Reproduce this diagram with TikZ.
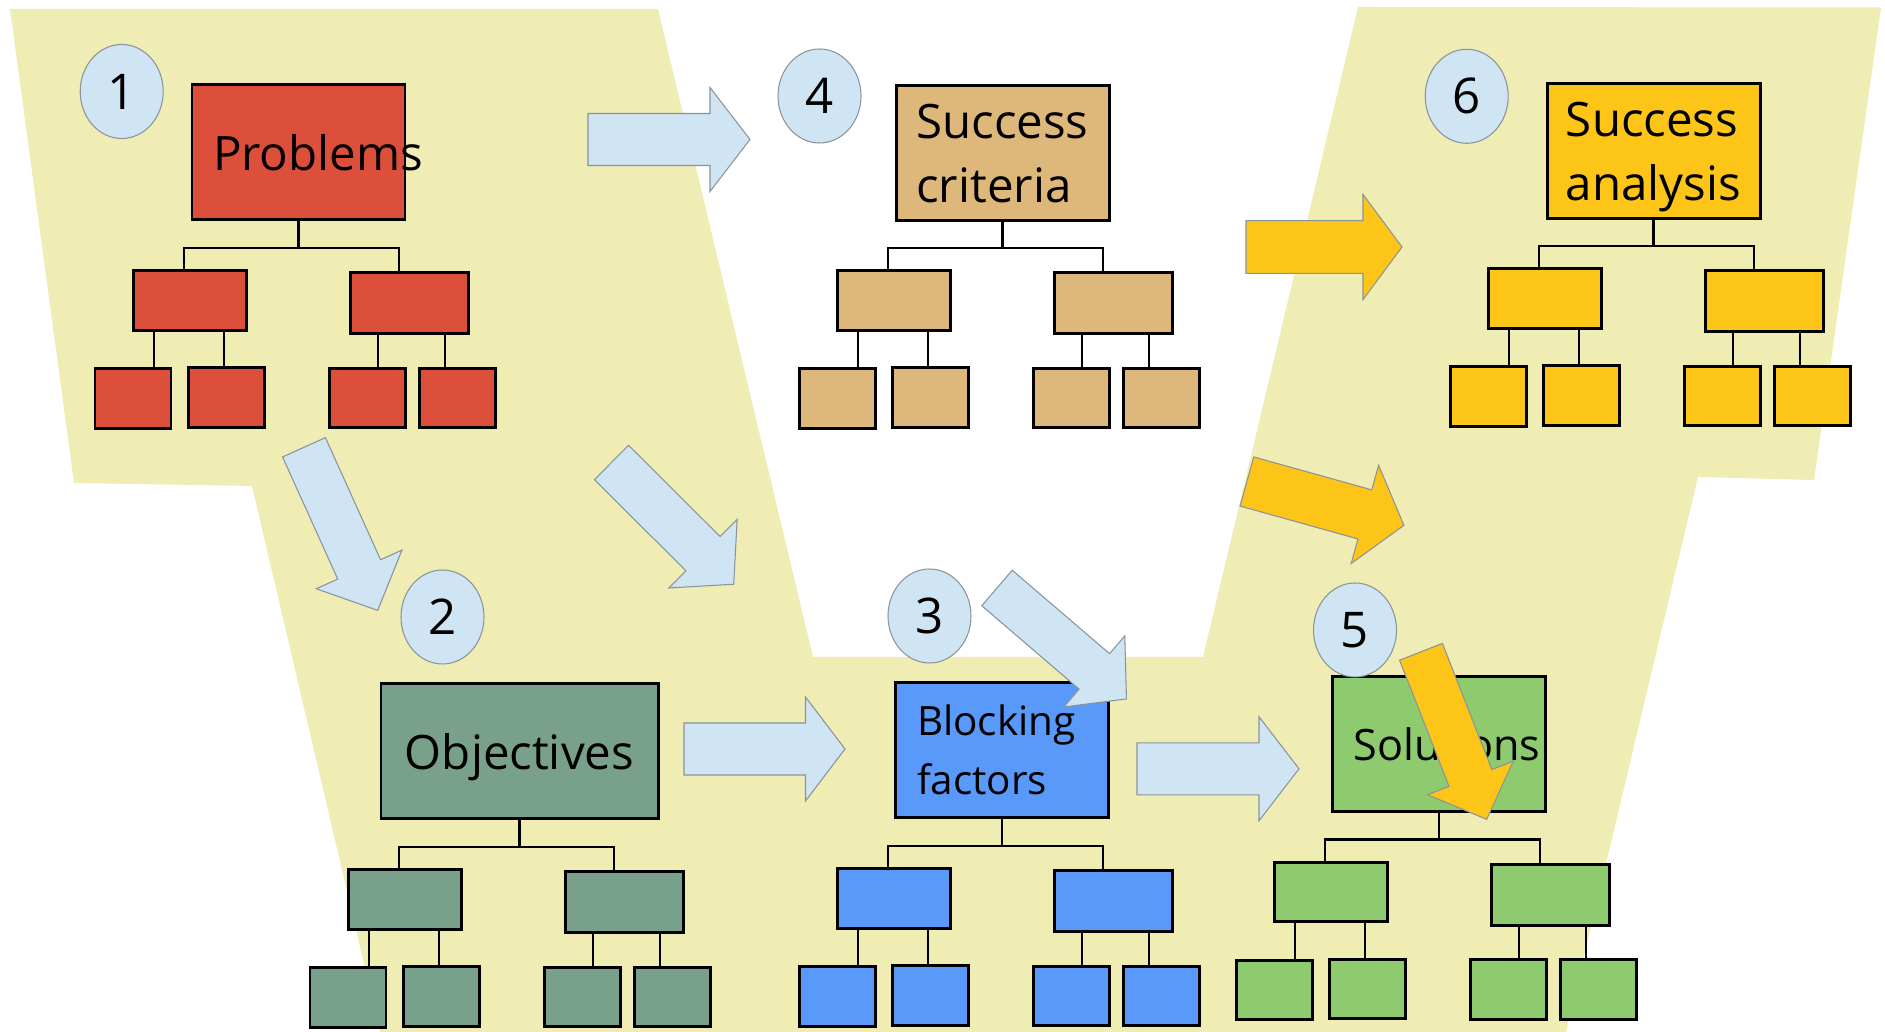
\documentclass[tikz,border=0pt]{standalone}
\usepackage{fontspec}
\setmainfont{Open Sans}
\usetikzlibrary{shapes.geometric}

\definecolor{bgyellow}{HTML}{EFECB4}
\definecolor{probred}{HTML}{DB4F3B}
\definecolor{crittan}{HTML}{DEB87A}
\definecolor{goldyellow}{HTML}{FEC519}
\definecolor{objgreen}{HTML}{78A08A}
\definecolor{blockblue}{HTML}{5999FA}
\definecolor{solgreen}{HTML}{8DCB6E}
\definecolor{bubbleblue}{HTML}{CFE5F3}
\definecolor{edgegray}{HTML}{8A939B}

\tikzset{
  mainbox/.style={draw=black, line width=0.85pt, minimum width=21.3mm, minimum height=13.5mm,
    inner sep=0pt, align=left, font=\fontsize{13.5}{18.3}\selectfont},
  subbox/.style={draw=black, line width=0.85pt, inner sep=0pt},
  midbox/.style={subbox, minimum width=11.3mm, minimum height=5.95mm},
  leafbox/.style={subbox, minimum width=7.6mm, minimum height=5.95mm},
  treeline/.style={line width=0.7pt},
  bubble/.style={ellipse, draw=edgegray, line width=0.3pt, fill=bubbleblue, minimum width=8.3mm,
    minimum height=9.4mm, inner sep=0pt, font=\fontsize{14}{16}\selectfont},
  bluearrow/.style={draw=edgegray, line width=0.3pt, fill=bubbleblue},
  goldarrow/.style={draw=edgegray, line width=0.3pt, fill=goldyellow},
}

% the six small boxes under a main box, laid out as under Problems and shifted by #3
\newcommand{\orgtree}[3]{%
  \begin{scope}[shift={(#3)}]
    \node[midbox, fill=#2] (#1a) at (19.0,30.03) {};
    \node[midbox, fill=#2, minimum width=11.8mm, minimum height=6.1mm] (#1b) at (40.99,30.32) {};
    \node[leafbox, fill=#2] (#1aa) at (13.3,39.85) {};
    \node[leafbox, fill=#2] (#1ab) at (22.67,39.75) {};
    \node[leafbox, fill=#2] (#1ba) at (36.77,39.8) {};
    \node[leafbox, fill=#2] (#1bb) at (45.76,39.8) {};
    \draw[treeline] (#1.south) -- (#1.south |- 0,24.8);
    \draw[treeline] (#1a.north -| 18.4,0) -- (18.4,24.8) -- (39.9,24.8) -- (#1b.north -| 39.9,0);
    \draw[treeline] (#1a.south -| 15.4,0) -- (#1aa.north -| 15.4,0);
    \draw[treeline] (#1a.south -| 22.4,0) -- (#1ab.north -| 22.4,0);
    \draw[treeline] (#1b.south -| 37.8,0) -- (#1ba.north -| 37.8,0);
    \draw[treeline] (#1b.south -| 44.5,0) -- (#1bb.north -| 44.5,0);
  \end{scope}}

% block arrow: style, middle of tail, angle below horizontal, length, half shaft, head length
\newcommand{\fatarrow}[6]{%
  \draw[#1, shift={(#2)}, rotate=-#3]
    (0,-#5) -- ({#4-#6},-#5) -- ({#4-#6},{-2*#5}) -- (#4,0)
    -- ({#4-#6},{2*#5}) -- ({#4-#6},#5) -- (0,#5) -- cycle;}

\begin{document}
\begin{tikzpicture}[x=1mm, y=-1mm]
  \useasboundingbox (0,0) rectangle (188.5,103.2);

  % yellow band behind everything
  \fill[bgyellow] (1.0,0.9) -- (65.8,0.9) -- (81.3,65.7) -- (120.3,65.7) -- (135.8,0.7)
    -- (188.1,0.75) -- (181.4,48.0) -- (169.8,47.7) -- (156.6,103.2) -- (38.0,103.2)
    -- (25.2,48.6) -- (7.4,48.3) -- cycle;

  % main boxes
  \node[mainbox, fill=probred, text width=17.1mm] (prob) at (29.85,15.25) {\mbox{Problems}};
  \node[mainbox, fill=crittan] (crit) at (100.25,15.35) {Success\\criteria};
  \node[mainbox, fill=goldyellow, text depth=0pt] (anal) at (165.35,15.1) {Success\\analysis};
  \node[mainbox, fill=objgreen, minimum width=27.7mm, text depth=0pt] (obj) at (51.95,75.15) {Objectives};
  \node[mainbox, fill=blockblue, text width=17mm, font=\fontsize{11.5}{16.9}\selectfont] (block) at (100.2,75.0) {Blocking\\factors};
  \node[mainbox, fill=solgreen, text width=17.1mm, font=\fontsize{12.3}{16}\selectfont] (sol) at (143.9,74.4) {\mbox{Solutions}};

  % sub-boxes
  \orgtree{prob}{probred}{0,0}
  \orgtree{crit}{crittan}{70.4,0}
  \orgtree{anal}{goldyellow}{135.5,-0.2}
  \orgtree{obj}{objgreen}{21.5,59.9}
  \orgtree{block}{blockblue}{70.4,59.8}
  \orgtree{sol}{solgreen}{114.1,59.15}

  % step numbers
  \node[bubble] (one) at (12.17,9.15) {1};
  \node[bubble] (two) at (44.25,61.7) {2};
  \node[bubble] (three) at (92.95,61.6) {3};
  \node[bubble] (four) at (81.95,9.6) {4};
  \node[bubble] (five) at (135.5,63.0) {5};
  \node[bubble] (six) at (146.67,9.63) {6};

  % blue arrows
  \fatarrow{bluearrow}{58.8,13.95}{0}{16.2}{2.6}{4.0}
  \fatarrow{bluearrow}{30.4,44.73}{65.7}{17.9}{2.35}{4.5}
  \fatarrow{bluearrow}{61.15,46.25}{44.9}{17.25}{2.42}{4.33}
  \fatarrow{bluearrow}{68.4,74.9}{0}{16.1}{2.6}{3.95}
  \fatarrow{bluearrow}{113.7,76.88}{0}{16.2}{2.6}{4.0}
  \fatarrow{bluearrow}{99.7,58.8}{40.6}{17.05}{2.34}{4.23}

  % yellow arrows
  \fatarrow{goldarrow}{124.6,24.7}{0}{15.6}{2.63}{3.9}
  \fatarrow{goldarrow}{124.69,48.15}{15.6}{16.3}{2.55}{4.05}
  \fatarrow{goldarrow}{142.1,65.18}{68.6}{18.0}{2.3}{4.45}
\end{tikzpicture}
\end{document}
